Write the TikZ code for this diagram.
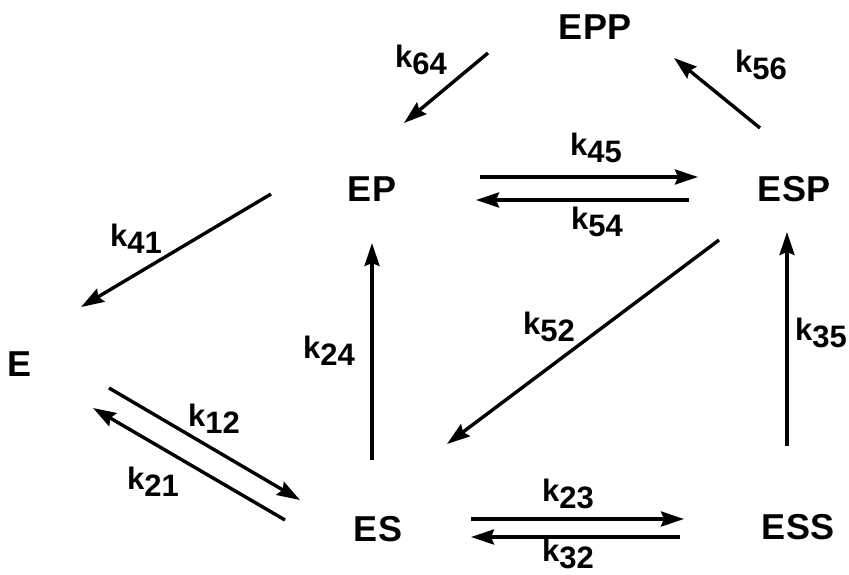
\documentclass[tikz,border=0pt]{standalone}
\usepackage{fontspec}
\setmainfont{Liberation Sans}
\usetikzlibrary{arrows.meta}
\newcommand{\rk}[1]{k\raisebox{-7pt}{#1}}
\tikzset{
  species/.style={inner sep=0pt, font=\fontsize{36}{40}\selectfont\bfseries},
  rate/.style={inner sep=0pt, font=\fontsize{31}{34}\selectfont\bfseries},
  flow/.style={line width=3.4pt, -{Stealth[length=23pt,width=15pt,inset=3pt]}}
}
\begin{document}
\begin{tikzpicture}[x=1pt,y=-1pt]
\useasboundingbox (0,0) rectangle (849,575);
% species
\node[species] (EPP) at (595,27) {EPP};
\node[species] (EP) at (372,189) {EP};
\node[species] (ESP) at (794,189) {ESP};
\node[species] (E) at (20,364) {E};
\node[species] (ES) at (378,529) {ES};
\node[species] (ESS) at (798,527) {ESS};
% rate labels
\node[rate] (l64) at (421,60) {\rk{64}};
\node[rate] (l56) at (761,65) {\rk{56}};
\node[rate] (l45) at (596,148) {\rk{45}};
\node[rate] (l54) at (597,222) {\rk{54}};
\node[rate] (l41) at (136,239) {\rk{41}};
\node[rate] (l12) at (214,419) {\rk{12}};
\node[rate] (l21) at (153,482) {\rk{21}};
\node[rate] (l24) at (329,351) {\rk{24}};
\node[rate] (l52) at (549,327) {\rk{52}};
\node[rate] (l35) at (821,333) {\rk{35}};
\node[rate] (l23) at (568,494) {\rk{23}};
\node[rate] (l32) at (568,554) {\rk{32}};
% arrow end points
\coordinate (a64s) at (488,53);  \coordinate (a64e) at (404,123);
\coordinate (a56s) at (760,128); \coordinate (a56e) at (674,58);
\coordinate (a45s) at (480,177); \coordinate (a45e) at (698,177);
\coordinate (a54s) at (689,200); \coordinate (a54e) at (476,200);
\coordinate (a41s) at (271,194); \coordinate (a41e) at (81,307);
\coordinate (a12s) at (109,388); \coordinate (a12e) at (300,500);
\coordinate (a21s) at (285,520); \coordinate (a21e) at (93,408);
\coordinate (a24s) at (372,460); \coordinate (a24e) at (372,243);
\coordinate (a52s) at (719,240); \coordinate (a52e) at (447,444);
\coordinate (a35s) at (787,446); \coordinate (a35e) at (787,232);
\coordinate (a23s) at (471,519); \coordinate (a23e) at (684,519);
\coordinate (a32s) at (680,537); \coordinate (a32e) at (471,537);
% arrows
\draw[flow] (a64s) -- (a64e);
\draw[flow] (a56s) -- (a56e);
\draw[flow] (a45s) -- (a45e);
\draw[flow] (a54s) -- (a54e);
\draw[flow] (a41s) -- (a41e);
\draw[flow] (a12s) -- (a12e);
\draw[flow] (a21s) -- (a21e);
\draw[flow] (a24s) -- (a24e);
\draw[flow] (a52s) -- (a52e);
\draw[flow] (a35s) -- (a35e);
\draw[flow] (a23s) -- (a23e);
\draw[flow] (a32s) -- (a32e);
\end{tikzpicture}
\end{document}
